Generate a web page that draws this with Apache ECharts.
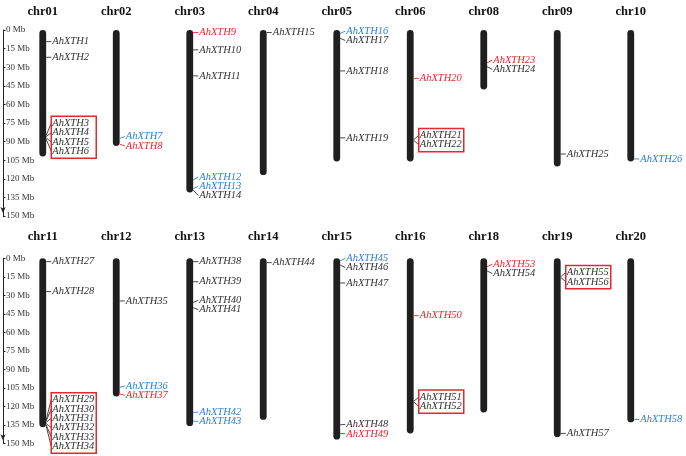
<!DOCTYPE html>
<html>
<head>
<meta charset="utf-8">
<script src="https://cdn.jsdelivr.net/npm/echarts@6/dist/echarts.min.js"></script>
<style>
html, body { margin: 0; padding: 0; background: #fff; }
#chart { width: 686px; height: 456px; }
</style>
</head>
<body>
<div id="chart"></div>
<script>
// chromosomes (Mb)
const topChromosomes = ['chr01', 'chr02', 'chr03', 'chr04', 'chr05', 'chr06', 'chr08', 'chr09', 'chr10']
const topLengths = [102, 93.5, 131, 117, 106, 106, 48, 110, 106]
const bottomChromosomes = ['chr11', 'chr12', 'chr13', 'chr14', 'chr15', 'chr16', 'chr18', 'chr19', 'chr20']
const bottomLengths = [137, 112, 136, 131, 147, 142, 125, 145, 133]

// genes
const geneNames = [
  'AhXTH1', 'AhXTH2', 'AhXTH3', 'AhXTH4', 'AhXTH5', 'AhXTH6', 'AhXTH7', 'AhXTH8', 'AhXTH9', 'AhXTH10',
  'AhXTH11', 'AhXTH12', 'AhXTH13', 'AhXTH14', 'AhXTH15', 'AhXTH16', 'AhXTH17', 'AhXTH18', 'AhXTH19', 'AhXTH20',
  'AhXTH21', 'AhXTH22', 'AhXTH23', 'AhXTH24', 'AhXTH25', 'AhXTH26', 'AhXTH27', 'AhXTH28', 'AhXTH29', 'AhXTH30',
  'AhXTH31', 'AhXTH32', 'AhXTH33', 'AhXTH34', 'AhXTH35', 'AhXTH36', 'AhXTH37', 'AhXTH38', 'AhXTH39', 'AhXTH40',
  'AhXTH41', 'AhXTH42', 'AhXTH43', 'AhXTH44', 'AhXTH45', 'AhXTH46', 'AhXTH47', 'AhXTH48', 'AhXTH49', 'AhXTH50',
  'AhXTH51', 'AhXTH52', 'AhXTH53', 'AhXTH54', 'AhXTH55', 'AhXTH56', 'AhXTH57', 'AhXTH58'
]
const geneChr = [
  'chr01', 'chr01', 'chr01', 'chr01', 'chr01', 'chr01', 'chr02', 'chr02', 'chr03', 'chr03',
  'chr03', 'chr03', 'chr03', 'chr03', 'chr04', 'chr05', 'chr05', 'chr05', 'chr05', 'chr06',
  'chr06', 'chr06', 'chr08', 'chr08', 'chr09', 'chr10', 'chr11', 'chr11', 'chr11', 'chr11',
  'chr11', 'chr11', 'chr11', 'chr11', 'chr12', 'chr12', 'chr12', 'chr13', 'chr13', 'chr13',
  'chr13', 'chr13', 'chr13', 'chr14', 'chr15', 'chr15', 'chr15', 'chr15', 'chr15', 'chr16',
  'chr16', 'chr16', 'chr18', 'chr18', 'chr19', 'chr19', 'chr19', 'chr20'
]
const genePos = [
  9.4, 22, 85, 86, 87, 88, 87.4, 92, 2, 16,
  37, 121, 128, 129, 2, 2.7, 6.7, 33, 87, 39,
  88.5, 89, 26.4, 29.6, 100, 104, 2.7, 27, 131, 132,
  133, 134, 135, 136, 34.6, 104.6, 110, 2.7, 19, 35.7,
  40, 125, 132, 3.5, 2.2, 5.4, 20, 135, 142, 46.5,
  116, 116.5, 6.8, 10.3, 15, 15.5, 142, 130.6
]
// segmental duplication class: 'A' red, 'B' blue, '' none
const geneDup = [
  '', '', '', '', '', '', 'B', 'A', 'A', '',
  '', 'B', 'B', '', '', 'B', '', '', '', 'A',
  '', '', 'A', '', '', 'B', '', '', '', '',
  '', '', '', '', '', 'B', 'A', '', '', '',
  '', 'B', 'B', '', 'B', '', '', '', 'A', 'A',
  '', '', 'A', '', '', '', '', 'B'
]
const tandemGroups = [
  ['AhXTH3', 'AhXTH4', 'AhXTH5', 'AhXTH6'],
  ['AhXTH21', 'AhXTH22'],
  ['AhXTH29', 'AhXTH30', 'AhXTH31', 'AhXTH32', 'AhXTH33', 'AhXTH34'],
  ['AhXTH51', 'AhXTH52'],
  ['AhXTH55', 'AhXTH56']
]

const dupColors = { A: '#e8262e', B: '#2f80cf', '': '#333333' }
const serif = '"Liberation Serif", "DejaVu Serif", serif'
const gap = 9.3

function tandemOf (name) {
  return tandemGroups.findIndex(g => g.indexOf(name) >= 0)
}

function makeRender (chromosomes) {
  return function (params, api) {
    const cat = api.value(0)
    const len = api.value(1)
    const chr = chromosomes[cat]
    const p0 = api.coord([cat, 0])
    const p1 = api.coord([cat, len])
    const cx = p0[0]
    const children = []
    children.push({
      type: 'rect',
      shape: { x: cx - 3.4, y: p0[1], width: 6.8, height: p1[1] - p0[1], r: 3.4 },
      style: { fill: '#1f1f1f' }
    })
    const genes = []
    geneNames.forEach((n, i) => {
      if (geneChr[i] === chr) {
        genes.push({ name: n, y: api.coord([cat, genePos[i]])[1], color: dupColors[geneDup[i]], tandem: tandemOf(n) })
      }
    })
    genes.sort((a, b) => a.y - b.y)
    // group close genes so their labels don't overlap
    const groups = []
    genes.forEach(g => {
      const last = groups[groups.length - 1]
      const prev = last && last[last.length - 1]
      if (prev && (g.y - prev.y < gap || (g.tandem >= 0 && g.tandem === prev.tandem))) last.push(g)
      else groups.push([g])
    })
    let lastY = -Infinity
    groups.forEach(grp => {
      const mean = grp.reduce((s, g) => s + g.y, 0) / grp.length
      let start = mean - (grp.length - 1) / 2 * gap
      if (start < lastY + gap) start = lastY + gap
      grp.forEach((g, k) => {
        const ly = start + k * gap
        lastY = ly
        children.push({
          type: 'line',
          shape: { x1: cx + 3.4, y1: g.y, x2: cx + 8.5, y2: ly },
          style: { stroke: g.color, lineWidth: 0.9 }
        })
        children.push({
          type: 'text',
          style: {
            x: cx + 9.5, y: ly, text: g.name, fill: g.color,
            fontSize: 10.5, fontFamily: serif, fontStyle: 'italic', verticalAlign: 'middle'
          }
        })
      })
      if (grp[0].tandem >= 0) {
        const top = start - 7
        const bottom = start + (grp.length - 1) * gap + 7
        children.push({
          type: 'rect',
          shape: { x: cx + 8.5, y: top, width: 45, height: bottom - top },
          style: { fill: 'none', stroke: '#e8262e', lineWidth: 1.5 }
        })
      }
    })
    return { type: 'group', children: children }
  }
}

function axisPair (gridIndex, chromosomes, labelMargin) {
  return {
    x: {
      type: 'category',
      gridIndex: gridIndex,
      data: chromosomes,
      position: 'top',
      axisLine: { show: false },
      axisTick: { show: false },
      axisLabel: { margin: labelMargin, fontFamily: serif, fontWeight: 'bold', fontSize: 12.5, color: '#111' }
    },
    y: {
      type: 'value',
      gridIndex: gridIndex,
      min: 0,
      max: 150,
      interval: 15,
      inverse: true,
      offset: 3,
      splitLine: { show: false },
      axisLine: { show: true, lineStyle: { color: '#222', width: 1 }, symbol: ['arrow', 'none'], symbolSize: [4, 6], symbolOffset: [3, 0] },
      axisTick: { show: true, inside: true, length: 2.5, lineStyle: { color: '#222' } },
      axisLabel: { inside: true, margin: 3, fontFamily: serif, fontSize: 9, color: '#333', formatter: '{value} Mb' }
    }
  }
}

const topAxes = axisPair(0, topChromosomes, 12)
const bottomAxes = axisPair(1, bottomChromosomes, 15)

const chart = echarts.init(document.getElementById('chart'))
chart.setOption({
  animation: false,
  grid: [
    { left: 6, width: 661.5, top: 30, height: 186 },
    { left: 6, width: 661.5, top: 258.3, height: 185 }
  ],
  xAxis: [topAxes.x, bottomAxes.x],
  yAxis: [topAxes.y, bottomAxes.y],
  series: [
    {
      type: 'custom',
      xAxisIndex: 0,
      yAxisIndex: 0,
      renderItem: makeRender(topChromosomes),
      data: topLengths.map((l, i) => [i, l]),
      clip: false
    },
    {
      type: 'custom',
      xAxisIndex: 1,
      yAxisIndex: 1,
      renderItem: makeRender(bottomChromosomes),
      data: bottomLengths.map((l, i) => [i, l]),
      clip: false
    }
  ]
})
window.addEventListener('resize', function () {
  chart.resize()
})
</script>
</body>
</html>
